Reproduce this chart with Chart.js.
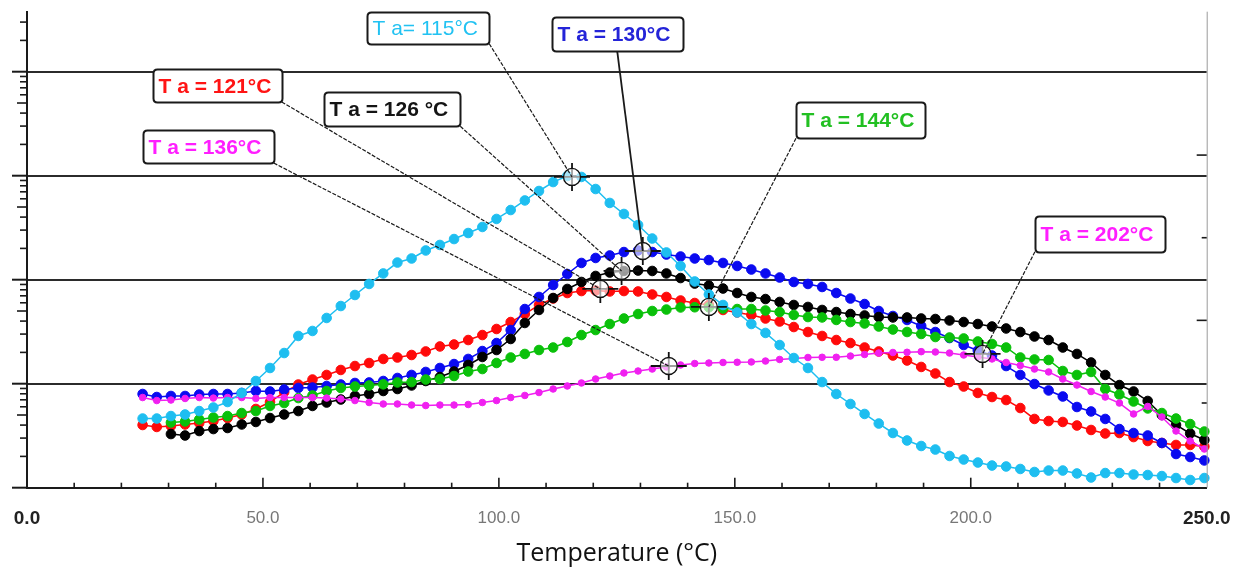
<!DOCTYPE html>
<html>
<head>
<meta charset="utf-8">
<script src="https://cdn.jsdelivr.net/npm/chart.js@4.4.1/dist/chart.umd.min.js"></script>
<style>
  html, body { margin: 0; padding: 0; background: #fff; }
  #wrap { width: 1244px; height: 571px; }
</style>
</head>
<body>
<div id="wrap"><canvas id="chart" width="1244" height="571"></canvas></div>
<script>
(function () {
  // temperatures (°C) of the measured points
  const temps = [
    24.5, 27.5, 30.5, 33.5, 36.5, 39.5, 42.5, 45.5, 48.5, 51.5,
    54.5, 57.5, 60.5, 63.5, 66.5, 69.5, 72.5, 75.5, 78.5, 81.5,
    84.5, 87.5, 90.5, 93.5, 96.5, 99.5, 102.5, 105.5, 108.5, 111.5,
    114.5, 117.5, 120.5, 123.5, 126.5, 129.5, 132.5, 135.5, 138.5, 141.5,
    144.5, 147.5, 150.5, 153.5, 156.5, 159.5, 162.5, 165.5, 168.5, 171.5,
    174.5, 177.5, 180.5, 183.5, 186.5, 189.5, 192.5, 195.5, 198.5, 201.5,
    204.5, 207.5, 210.5, 213.5, 216.5, 219.5, 222.5, 225.5, 228.5, 231.5,
    234.5, 237.5, 240.5, 243.5, 246.5, 249.5
  ];

  // log10 values (decades), one list per curve
  const cyanVals = [
    -0.335, -0.335, -0.311, -0.296, -0.263, -0.229, -0.176, -0.089, 0.026, 0.151,
    0.295, 0.459, 0.507, 0.632, 0.747, 0.853, 0.959, 1.060, 1.165, 1.204,
    1.281, 1.334, 1.391, 1.449, 1.507, 1.584, 1.670, 1.762, 1.853, 1.939,
    1.997, 1.988, 1.872, 1.738, 1.632, 1.526, 1.396, 1.262, 1.132, 0.983,
    0.858, 0.757, 0.685, 0.574, 0.488, 0.372, 0.247, 0.151, 0.016, -0.099,
    -0.195, -0.291, -0.383, -0.474, -0.546, -0.599, -0.633, -0.695, -0.729, -0.758,
    -0.787, -0.796, -0.820, -0.849, -0.835, -0.835, -0.863, -0.902, -0.859, -0.859,
    -0.873, -0.878, -0.888, -0.907, -0.926, -0.907
  ];
  const blueVals = [
    -0.099, -0.128, -0.118, -0.118, -0.104, -0.099, -0.099, -0.089, -0.070, -0.075,
    -0.056, -0.041, -0.037, -0.022, -0.008, 0.007, 0.012, 0.026, 0.055, 0.084,
    0.113, 0.151, 0.189, 0.238, 0.314, 0.391, 0.516, 0.718, 0.834, 0.949,
    1.055, 1.161, 1.209, 1.233, 1.266, 1.281, 1.266, 1.242, 1.223, 1.204,
    1.189, 1.161, 1.132, 1.098, 1.060, 1.021, 0.978, 0.959, 0.930, 0.872,
    0.819, 0.766, 0.699, 0.651, 0.613, 0.555, 0.497, 0.439, 0.372, 0.319,
    0.271, 0.170, 0.084, -0.003, -0.065, -0.123, -0.224, -0.267, -0.339, -0.436,
    -0.474, -0.498, -0.570, -0.676, -0.705, -0.738
  ];
  const redVals = [
    -0.397, -0.416, -0.407, -0.392, -0.378, -0.359, -0.330, -0.296, -0.243, -0.176,
    -0.080, -0.008, 0.040, 0.084, 0.132, 0.170, 0.199, 0.238, 0.252, 0.276,
    0.310, 0.358, 0.377, 0.420, 0.468, 0.526, 0.593, 0.670, 0.757, 0.819,
    0.872, 0.891, 0.896, 0.887, 0.891, 0.887, 0.858, 0.834, 0.800, 0.776,
    0.757, 0.709, 0.685, 0.661, 0.627, 0.598, 0.545, 0.497, 0.459, 0.420,
    0.391, 0.348, 0.310, 0.271, 0.223, 0.161, 0.098, 0.016, -0.027, -0.089,
    -0.128, -0.157, -0.234, -0.339, -0.359, -0.368, -0.402, -0.445, -0.479, -0.474,
    -0.513, -0.551, -0.570, -0.589, -0.589, -0.604
  ];
  const blackVals = [
    null, null, -0.484, -0.498, -0.455, -0.436, -0.426, -0.392, -0.368, -0.330,
    -0.296, -0.263, -0.214, -0.181, -0.152, -0.118, -0.099, -0.070, -0.051, -0.017,
    0.026, 0.064, 0.117, 0.180, 0.257, 0.324, 0.430, 0.584, 0.709, 0.824,
    0.911, 0.978, 1.036, 1.069, 1.084, 1.088, 1.084, 1.060, 1.016, 0.963,
    0.944, 0.915, 0.872, 0.834, 0.814, 0.786, 0.757, 0.738, 0.709, 0.689,
    0.670, 0.656, 0.641, 0.637, 0.637, 0.627, 0.622, 0.608, 0.593, 0.574,
    0.550, 0.531, 0.497, 0.454, 0.420, 0.348, 0.286, 0.204, 0.084, -0.013,
    -0.075, -0.166, -0.301, -0.397, -0.479, -0.541
  ];
  const greenVals = [
    null, null, -0.373, -0.363, -0.344, -0.325, -0.311, -0.282, -0.263, -0.214,
    -0.186, -0.138, -0.113, -0.070, -0.041, -0.027, -0.017, -0.006, 0.012, 0.016,
    0.040, 0.045, 0.074, 0.117, 0.141, 0.199, 0.252, 0.286, 0.324, 0.348,
    0.401, 0.468, 0.516, 0.574, 0.627, 0.670, 0.699, 0.713, 0.733, 0.735,
    0.735, 0.723, 0.718, 0.718, 0.704, 0.689, 0.661, 0.641, 0.637, 0.613,
    0.593, 0.579, 0.550, 0.521, 0.497, 0.478, 0.449, 0.444, 0.435, 0.406,
    0.382, 0.348, 0.252, 0.233, 0.228, 0.122, 0.084, 0.113, -0.051, -0.104,
    -0.171, -0.238, -0.282, -0.335, -0.388, -0.460
  ];
  const magentaVals = [
    -0.133, -0.162, -0.157, -0.142, -0.133, -0.138, -0.133, -0.133, -0.142, -0.133,
    -0.133, -0.133, -0.133, -0.138, -0.147, -0.162, -0.181, -0.195, -0.195, -0.205,
    -0.210, -0.205, -0.205, -0.200, -0.181, -0.162, -0.133, -0.113, -0.085, -0.051,
    -0.022, 0.007, 0.045, 0.074, 0.103, 0.122, 0.141, 0.161, 0.180, 0.194,
    0.199, 0.204, 0.206, 0.209, 0.218, 0.233, 0.242, 0.252, 0.254, 0.254,
    0.266, 0.281, 0.295, 0.300, 0.302, 0.308, 0.305, 0.295, 0.276, 0.257,
    0.238, 0.204, 0.175, 0.141, 0.113, 0.045, -0.013, -0.075, -0.128, -0.186,
    -0.291, -0.219, -0.320, -0.455, -0.551, -0.628
  ];

  // Ta markers (crosshairs) : 115, 130, 121, 126, 136, 144, 202
  const markTemps = [115.5, 130.5, 121.5, 126, 136, 144.5, 202.5];
  const markVals = [1.988, 1.276, 0.911, 1.084, 0.170, 0.738, 0.286];
  const markTexts = ["T a= 115°C", "T a = 130°C", "T a = 121°C", "T a = 126 °C",
                     "T a = 136°C", "T a = 144°C", "T a = 202°C"];

  const xTicks = [0, 50, 100, 150, 200, 250];
  const decades = [-1, 0, 1, 2, 3];

  // label boxes: top-left in data units, size in px
  const boxes = [
    { x: 72.1,  y: 3.577, w: 122, h: 32, from: "br", color: "#22c2f2", bold: false },
    { x: 111.2, y: 3.523, w: 131, h: 34, from: "bc", color: "#2424d8", bold: true },
    { x: 26.64, y: 3.026, w: 129, h: 33, from: "br", color: "#ff1414", bold: true },
    { x: 63.0,  y: 2.802, w: 136, h: 34, from: "br", color: "#141414", bold: true },
    { x: 24.52, y: 2.439, w: 131, h: 33, from: "br", color: "#ff1eff", bold: true },
    { x: 162.97, y: 2.706, w: 129, h: 36, from: "bl", color: "#22c022", bold: true },
    { x: 213.6, y: 1.615, w: 130, h: 36, from: "bl", color: "#ff1eff", bold: true }
  ];

  const pts = vals => temps.map((t, i) => ({ x: t, y: vals[i] })).filter(p => p.y !== null);
  const marks = markTemps.map((t, i) => ({ x: t, y: markVals[i] }));
  const isEnd = c => !!(c && c.tick && (c.tick.value === 0 || c.tick.value === 250));

  function serie(vals, color, r) {
    return {
      data: pts(vals), showLine: true, borderColor: color, backgroundColor: color,
      borderWidth: 1.5, pointRadius: r, pointBorderWidth: 1, pointBorderColor: color,
      pointStyle: "circle", clip: 12
    };
  }

  function roundBox(ctx, x, y, w, h, r) {
    ctx.beginPath();
    ctx.moveTo(x + r, y);
    ctx.lineTo(x + w - r, y);
    ctx.quadraticCurveTo(x + w, y, x + w, y + r);
    ctx.lineTo(x + w, y + h - r);
    ctx.quadraticCurveTo(x + w, y + h, x + w - r, y + h);
    ctx.lineTo(x + r, y + h);
    ctx.quadraticCurveTo(x, y + h, x, y + h - r);
    ctx.lineTo(x, y + r);
    ctx.quadraticCurveTo(x, y, x + r, y);
    ctx.closePath();
  }

  const decor = {
    id: "decor",
    afterDraw(chart) {
      const { ctx, chartArea: a, scales } = chart;
      const sx = scales.x, sy = scales.y, sy2 = scales.y2;
      ctx.save();
      ctx.strokeStyle = "#1a1a1a";

      // left log ticks (outside)
      decades.forEach(d => {
        const py = sy.getPixelForValue(d);
        ctx.lineWidth = 2;
        ctx.beginPath(); ctx.moveTo(a.left - 15, py); ctx.lineTo(a.left, py); ctx.stroke();
        for (let k = 2; k <= 9; k++) {
          const v = d + Math.log10(k);
          if (v > sy.max) break;
          const p = sy.getPixelForValue(v);
          const len = k === 5 ? 10 : 7;
          ctx.lineWidth = 1.6;
          ctx.beginPath(); ctx.moveTo(a.left - len, p); ctx.lineTo(a.left, p); ctx.stroke();
        }
      });

      // bottom minor ticks (inside)
      ctx.lineWidth = 1.6;
      for (let t = 10; t < 250; t += 10) {
        const px = sx.getPixelForValue(t);
        const len = t % 50 === 0 ? 10 : 5;
        ctx.beginPath(); ctx.moveTo(px, a.bottom); ctx.lineTo(px, a.bottom - len); ctx.stroke();
      }

      // right frame and inner ticks
      ctx.strokeStyle = "#9a9a9a";
      ctx.lineWidth = 1;
      ctx.beginPath(); ctx.moveTo(a.right + 0.5, a.top); ctx.lineTo(a.right + 0.5, a.bottom); ctx.stroke();
      ctx.strokeStyle = "#1a1a1a";
      ctx.lineWidth = 1.6;
      [1, 2, 3, 4].forEach(v => {
        const p = sy2.getPixelForValue(v);
        const len = v % 2 === 0 ? 10 : 5;
        ctx.beginPath(); ctx.moveTo(a.right - len, p); ctx.lineTo(a.right, p); ctx.stroke();
      });

      // leader lines
      boxes.forEach((b, i) => {
        const left = sx.getPixelForValue(b.x), top = sy.getPixelForValue(b.y);
        let fx = left + b.w;
        if (b.from === "bl") fx = left;
        if (b.from === "bc") fx = left + b.w / 2;
        const fy = top + b.h;
        const tx = sx.getPixelForValue(markTemps[i]), ty = sy.getPixelForValue(markVals[i]);
        ctx.strokeStyle = "#1a1a1a";
        ctx.lineWidth = i === 1 ? 1.8 : 1.2;
        ctx.setLineDash(i === 1 ? [] : [4, 1.5]);
        ctx.beginPath(); ctx.moveTo(fx, fy); ctx.lineTo(tx, ty); ctx.stroke();
      });
      ctx.setLineDash([]);

      // label boxes
      boxes.forEach((b, i) => {
        const left = Math.round(sx.getPixelForValue(b.x)) + 0.5;
        const top = Math.round(sy.getPixelForValue(b.y)) + 0.5;
        roundBox(ctx, left, top, b.w, b.h, 4);
        ctx.fillStyle = "#ffffff";
        ctx.fill();
        ctx.lineWidth = 2;
        ctx.strokeStyle = "#1a1a1a";
        ctx.stroke();
        ctx.fillStyle = b.color;
        ctx.font = (b.bold ? "bold " : "") + "21px 'Liberation Sans', Arial, sans-serif";
        ctx.textBaseline = "middle";
        ctx.textAlign = "left";
        ctx.fillText(markTexts[i], left + 5, top + b.h / 2 + 1);
      });
      ctx.restore();
    }
  };

  new Chart(document.getElementById("chart"), {
    type: "scatter",
    data: {
      datasets: [
        { data: marks, pointStyle: "circle", pointRadius: 8.5, pointBorderWidth: 1.3,
          pointBorderColor: "#111", pointBackgroundColor: "rgba(255,255,255,0.6)", clip: 20 },
        { data: marks, pointStyle: "line", pointRadius: 18, pointBorderWidth: 1.8,
          pointBorderColor: "#111", clip: 20 },
        { data: marks, pointStyle: "line", pointRotation: 90, pointRadius: 14, pointBorderWidth: 1.8,
          pointBorderColor: "#111", clip: 20 },
        serie(cyanVals, "#1ebef0", 4.8),
        serie(magentaVals, "#f020f0", 3.3),
        serie(greenVals, "#0ac00a", 4.8),
        serie(blackVals, "#000000", 4.8),
        serie(blueVals, "#0a0af0", 4.8),
        serie(redVals, "#ff0a0a", 4.8)
      ]
    },
    options: {
      responsive: false,
      animation: false,
      layout: { autoPadding: false, padding: { top: 11.7, right: 37.3, left: 0, bottom: 0 } },
      plugins: { legend: { display: false }, tooltip: { enabled: false } },
      scales: {
        x: {
          type: "linear", min: 0, max: 250,
          afterFit: s => { s.height = 83.3; s.paddingLeft = 0; s.paddingRight = 0; },
          afterBuildTicks: s => { s.ticks = xTicks.map(v => ({ value: v })); },
          grid: { display: false, drawTicks: false },
          border: { display: true, color: "#1a1a1a", width: 2 },
          ticks: {
            padding: 20,
            callback: v => Number(v).toFixed(1),
            color: c => isEnd(c) ? "#222" : "#777",
            font: c => isEnd(c)
              ? { family: "'Liberation Sans', Arial", size: 19, weight: "bold" }
              : { family: "'Liberation Sans', Arial", size: 17 }
          },
          title: {
            display: true, text: "Temperature (°C)", color: "#111",
            font: { family: "'Open Sans'", size: 25 }, padding: { top: 0, bottom: 2 }
          }
        },
        y: {
          type: "linear", min: -1, max: 3.577,
          afterFit: s => { s.width = 27; },
          afterBuildTicks: s => { s.ticks = decades.map(v => ({ value: v })); },
          ticks: { display: false },
          grid: { color: "#2b2b2b", lineWidth: 2, drawTicks: false },
          border: { display: true, color: "#1a1a1a", width: 2 }
        },
        y2: {
          type: "linear", position: "right", min: -0.025, max: 5.735,
          display: false
        }
      }
    },
    plugins: [decor]
  });
})();
</script>
</body>
</html>
